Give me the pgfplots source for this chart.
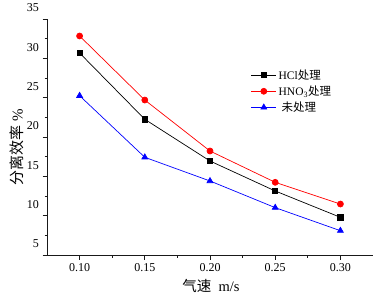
\documentclass[border=0pt]{standalone}
\usepackage{pgfplots}
\pgfplotsset{compat=1.18}
\usepackage{fontspec}
\setmainfont{Liberation Serif}
\newfontfamily\cjk{Noto Sans CJK SC}

\begin{document}
\begin{tikzpicture}
\useasboundingbox (0,0) rectangle (377pt,303pt);
\begin{axis}[
  at={(47pt,48pt)}, anchor=south west,
  scale only axis, width=326pt, height=236pt,
  xmin=0.075, xmax=0.325, ymin=5, ymax=35,
  axis lines=left,
  axis line style={-, line width=0.9pt, black!90},
  xtick={0.10,0.15,0.20,0.25,0.30},
  xticklabels={0.10,0.15,0.20,0.25,0.30},
  ytick={5,10,15,20,25,30,35},
  yticklabels={5,10,15,20,25,30,35},
  minor x tick num=1, minor y tick num=1,
  tick align=outside,
  major tick length=4.5pt, minor tick length=2.5pt,
  every tick/.style={line width=0.8pt, black!90},
  ticklabel style={font=\fontsize{12}{14}\selectfont},
  yticklabel style={yshift=11pt},
  /pgf/number format/assume math mode=true,
  xlabel={{\cjk 气速}\ \ m/s},
  xlabel style={at={(axis description cs:0.503,-0.131)}, anchor=center, font=\fontsize{14.5}{16}\selectfont},
  ylabel={{\cjk 分离效率}\ \%},
  ylabel style={at={(axis description cs:-0.092,0.458)}, anchor=center, rotate=0, font=\fontsize{15}{17}\selectfont},
  legend style={draw=none, fill=none, at={(axis description cs:0.625,0.795)}, anchor=north west,
    font=\fontsize{11.5}{13}\selectfont, row sep=1pt, inner sep=0pt},
  legend cell align=left,
  legend image code/.code={\draw[mark repeat=2,mark phase=2] plot coordinates {(0pt,0pt) (12.5pt,0pt) (25pt,0pt)};},
]
\addplot[black, line width=0.7pt, mark=square*, mark size=2.6pt, mark options={solid}] coordinates {
  (0.10,30.68) (0.15,22.25) (0.20,16.95) (0.25,13.14) (0.30,9.79)};
\addlegendentry{HCl{\cjk 处理}}
\addplot[red, line width=0.7pt, mark=*, mark size=3pt, mark options={solid}] coordinates {
  (0.10,32.84) (0.15,24.70) (0.20,18.22) (0.25,14.24) (0.30,11.48)};
\addlegendentry{HNO\textsubscript{3}{\cjk 处理}}
\addplot[blue, line width=0.7pt, mark=triangle*, mark size=3.4pt, mark options={solid}] coordinates {
  (0.10,25.25) (0.15,17.42) (0.20,14.41) (0.25,11.02) (0.30,8.09)};
\addlegendentry{\ {\cjk 未处理}}
\end{axis}
\end{tikzpicture}
\end{document}
